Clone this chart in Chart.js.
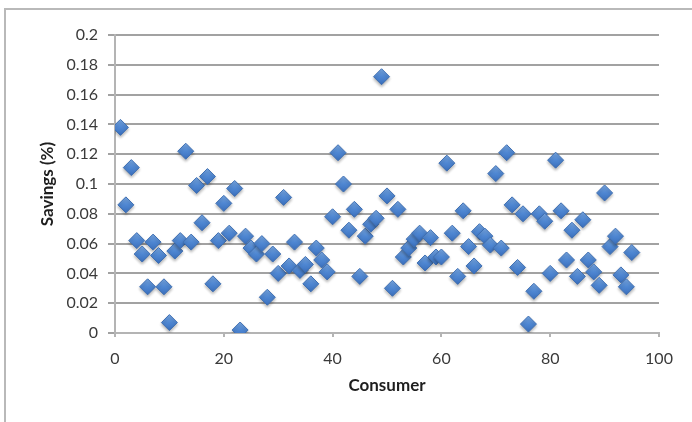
<!DOCTYPE html>
<html>
<head>
<meta charset="utf-8">
<script src="https://cdn.jsdelivr.net/npm/chart.js@4/dist/chart.umd.min.js"></script>
<style>
  html, body { margin: 0; padding: 0; background: #ffffff; }
  #wrap { position: relative; width: 692px; height: 422px; }
  #frame { position: absolute; left: 4px; top: 8px; right: -4px; bottom: -4px;
           border-left: 2px solid #b9b9b9; border-top: 2px solid #b9b9b9; pointer-events: none; }
  canvas { position: absolute; left: 0; top: 0; }
</style>
</head>
<body>
<div id="wrap">
  <canvas id="chart" width="692" height="422"></canvas>
  <div id="frame"></div>
</div>
<script>
// Savings per consumer
const consumers = [1,2,3,4,5,6,7,8,9,10,11,12,13,14,15,16,17,18,19,20,
  21,22,23,24,25,26,27,28,29,30,31,32,33,34,35,36,37,38,39,40,
  41,42,43,44,45,46,47,48,49,50,51,52,53,54,55,56,57,58,59,60,
  61,62,63,64,65,66,67,68,69,70,71,72,73,74,75,76,77,78,79,80,
  81,82,83,84,85,86,87,88,89,90,91,92,93,94,95];
const savings = [0.138,0.086,0.111,0.062,0.053,0.031,0.061,0.052,0.031,0.007,
  0.055,0.062,0.122,0.061,0.099,0.074,0.105,0.033,0.062,0.087,
  0.067,0.097,0.002,0.065,0.057,0.053,0.060,0.024,0.053,0.040,
  0.091,0.045,0.061,0.042,0.046,0.033,0.057,0.049,0.041,0.078,
  0.121,0.100,0.069,0.083,0.038,0.065,0.073,0.077,0.172,0.092,
  0.030,0.083,0.051,0.057,0.063,0.067,0.047,0.064,0.051,0.051,
  0.114,0.067,0.038,0.082,0.058,0.045,0.068,0.065,0.059,0.107,
  0.057,0.121,0.086,0.044,0.080,0.006,0.028,0.080,0.075,0.040,
  0.116,0.082,0.049,0.069,0.038,0.076,0.049,0.041,0.032,0.094,
  0.058,0.065,0.039,0.031,0.054];
const xTickLabels = ['0','20','40','60','80','100'];
const yTickLabels = ['0','0.02','0.04','0.06','0.08','0.1','0.12','0.14','0.16','0.18','0.2'];

const points = consumers.map((c, i) => ({ x: c, y: savings[i] }));

// Soft drop shadow under the diamond markers
const markerShadow = {
  id: 'markerShadow',
  beforeDatasetsDraw(chart) {
    const ctx = chart.ctx;
    ctx.save();
    ctx.shadowColor = 'rgba(0,0,0,0.28)';
    ctx.shadowBlur = 3;
    ctx.shadowOffsetY = 2;
  },
  afterDatasetsDraw(chart) {
    chart.ctx.restore();
  }
};

// Vertical light-to-dark fill for each diamond, anchored at the point's pixel row
function diamondFill(ctx) {
  const flat = '#4a80cc';
  if (ctx.type !== 'data' || !ctx.parsed) return flat;
  const chart = ctx.chart;
  const scale = chart.scales && chart.scales.y;
  if (!scale) return flat;
  const y = scale.getPixelForValue(ctx.parsed.y);
  if (!isFinite(y)) return flat;
  const g = chart.ctx.createLinearGradient(0, y - 8, 0, y + 8);
  g.addColorStop(0, '#7aaae6');
  g.addColorStop(0.5, '#4f87d2');
  g.addColorStop(1, '#3a6fbd');
  return g;
}

new Chart(document.getElementById('chart'), {
  type: 'scatter',
  data: {
    datasets: [{
      label: 'Savings',
      data: points,
      pointStyle: 'rectRot',
      pointRadius: 8,
      pointHoverRadius: 8,
      backgroundColor: diamondFill,
      borderColor: '#3f6fb2',
      borderWidth: 1
    }]
  },
  plugins: [markerShadow],
  options: {
    responsive: false,
    animation: false,
    events: [],
    layout: { padding: { left: 0, right: 33, top: 35, bottom: 0 } },
    plugins: { legend: { display: false }, tooltip: { enabled: false } },
    scales: {
      x: {
        type: 'linear',
        min: 0, max: 100,
        afterFit(scale) { scale.height = 89; },
        ticks: {
          stepSize: 20,
          padding: 12,
          color: '#3a3a3a',
          font: { family: 'Lato', size: 16 },
          maxRotation: 0,
          callback: (v, i) => xTickLabels[i]
        },
        grid: { drawOnChartArea: false, drawTicks: true, tickLength: 4, color: '#b4b4b4', lineWidth: 2 },
        border: { color: '#b4b4b4', width: 2 },
        title: {
          display: true, text: 'Consumer', color: '#1e1e1e',
          font: { family: 'Lato', size: 17, weight: 'bold' },
          padding: { top: 0, bottom: 26 }
        }
      },
      y: {
        min: 0, max: 0.2,
        afterFit(scale) { scale.width = 115; },
        ticks: {
          stepSize: 0.02,
          padding: 10,
          color: '#3a3a3a',
          font: { family: 'Lato', size: 16 },
          callback: (v, i) => yTickLabels[i]
        },
        grid: { color: '#a2a2a2', lineWidth: 2, tickLength: 7, drawTicks: true },
        border: { color: '#b4b4b4', width: 2 },
        title: {
          display: true, text: 'Savings (%)', color: '#1e1e1e',
          font: { family: 'Lato', size: 17, weight: 'bold' },
          padding: { top: 37, bottom: 0 }
        }
      }
    }
  }
});
</script>
</body>
</html>
